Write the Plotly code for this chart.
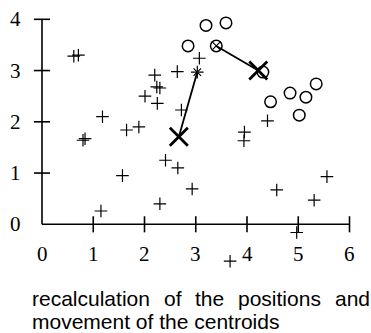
import plotly.graph_objects as go

# cluster A points ("+")
plus_x = [0.62, 0.71, 1.18, 0.80, 0.84, 1.65, 1.89, 2.01, 2.20, 2.24, 2.30, 2.25,
          2.64, 2.72, 3.07, 3.03, 1.57, 1.15, 2.30, 2.41, 2.65, 2.93, 3.95, 3.94,
          4.40, 4.58, 5.31, 5.56, 4.97, 3.67]
plus_y = [3.28, 3.30, 2.10, 1.64, 1.67, 1.84, 1.90, 2.50, 2.91, 2.68, 2.66, 2.36,
          2.98, 2.23, 3.24, 2.97, 0.95, 0.26, 0.40, 1.25, 1.10, 0.69, 1.80, 1.63,
          2.02, 0.67, 0.47, 0.93, -0.16, -0.72]

# cluster B points ("o")
circ_x = [2.85, 3.20, 3.59, 3.40, 4.31, 4.46, 4.84, 5.15, 5.35, 5.02]
circ_y = [3.48, 3.88, 3.93, 3.48, 2.97, 2.39, 2.56, 2.48, 2.74, 2.13]

# centroids before and after recalculation
old_cx = [3.03, 3.40]
old_cy = [2.97, 3.48]
new_cx = [2.67, 4.22]
new_cy = [1.71, 3.00]

x_ticks = [1, 2, 3, 4, 5, 6]
y_ticks = [1, 2, 3, 4]
x_labels = ["0", "1", "2", "3", "4", "5", "6"]
y_labels = ["0", "1", "2", "3", "4"]

caption_line1 = ["recalculation", "of", "the", "positions", "and"]
caption_line2 = "movement of the centroids"

INK = "black"
fig = go.Figure()


def open_marker(symbol, size, width):
    return dict(symbol=symbol, size=size, color=INK, line=dict(color=INK, width=width))


# axis lines
fig.add_shape(type="line", x0=0, y0=0, x1=max(x_ticks), y1=0,
              line=dict(color=INK, width=1.6))
fig.add_shape(type="line", x0=0, y0=0, x1=0, y1=max(y_ticks),
              line=dict(color=INK, width=1.6))

# tick marks crossing the axes
fig.add_trace(go.Scatter(x=x_ticks, y=[0] * len(x_ticks), mode="markers",
                         marker=open_marker("line-ns-open", 11.5, 1.6),
                         hoverinfo="skip"))
fig.add_trace(go.Scatter(x=[0] * len(y_ticks), y=y_ticks, mode="markers",
                         marker=open_marker("line-ew-open", 11.5, 1.6),
                         hoverinfo="skip"))

# centroid movement
for ox, oy, nx, ny in zip(old_cx, old_cy, new_cx, new_cy):
    fig.add_trace(go.Scatter(x=[ox, nx], y=[oy, ny], mode="lines",
                             line=dict(color=INK, width=1.8), hoverinfo="skip"))

fig.add_trace(go.Scatter(x=plus_x, y=plus_y, mode="markers",
                         marker=open_marker("cross-thin-open", 9, 1.2)))
fig.add_trace(go.Scatter(x=circ_x, y=circ_y, mode="markers",
                         marker=open_marker("circle-open", 11.5, 1.5)))
fig.add_trace(go.Scatter(x=old_cx, y=old_cy, mode="markers",
                         marker=open_marker("x-thin-open", 7.5, 1.2)))
fig.add_trace(go.Scatter(x=new_cx, y=new_cy, mode="markers",
                         marker=open_marker("x-thin-open", 18, 2.8)))

serif = dict(family="Liberation Serif, Times New Roman, serif", size=21, color=INK)
for i, lab in enumerate(x_labels):
    fig.add_annotation(x=i, y=0, text=lab, showarrow=False, xanchor="center",
                       yanchor="middle", yshift=-30, font=serif)
for i, lab in enumerate(y_labels):
    fig.add_annotation(x=0, y=i, text=lab, showarrow=False, xanchor="center",
                       yanchor="middle", xshift=-27, font=serif)

sans = dict(family="Liberation Sans, Arial, Helvetica, sans-serif", size=21, color=INK)
W, H = 371, 333
word_left = [30, 161.7, 193, 236, 332.5]
for word, px in zip(caption_line1, word_left):
    fig.add_annotation(xref="paper", yref="paper", x=px / W, y=1 - 298 / H,
                       text=word, showarrow=False, xanchor="left",
                       yanchor="middle", font=sans)
fig.add_annotation(xref="paper", yref="paper", x=30 / W, y=1 - 321 / H,
                   text=caption_line2, showarrow=False, xanchor="left",
                   yanchor="middle", font=sans)

fig.update_layout(
    width=W, height=H, autosize=False,
    margin=dict(l=0, r=0, t=0, b=0),
    paper_bgcolor="white", plot_bgcolor="white",
    showlegend=False,
    xaxis=dict(range=[-42 / 51.25, (W - 42) / 51.25], visible=False),
    yaxis=dict(range=[-(H - 224.3) / 51.25, 224.3 / 51.25], visible=False),
)

fig.write_html("out.html")
